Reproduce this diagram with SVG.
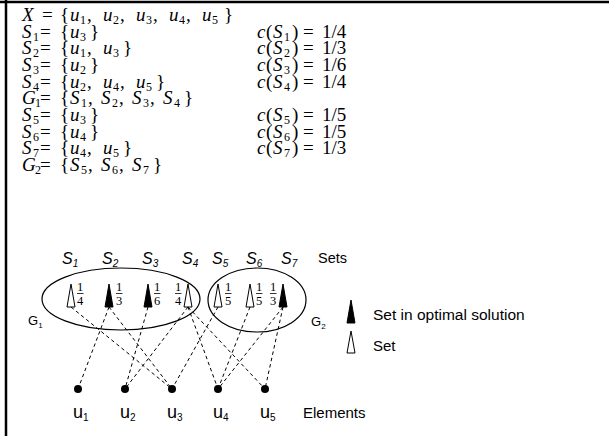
<svg xmlns="http://www.w3.org/2000/svg" width="609" height="436" viewBox="0 0 609 436">
<style>
.m{font-family:"Liberation Serif",serif;font-size:19px;fill:#000}
.i{font-style:italic}
.s{font-size:12px}
.fr{font-family:"Liberation Serif",serif;font-size:12.5px;fill:#000;text-anchor:middle}
.sf{font-family:"Liberation Sans",Arial,sans-serif;fill:#000}
.tri-f{fill:#000;stroke:#000;stroke-width:1}
.tri-o{fill:#fff;stroke:#000;stroke-width:1}
.edge{stroke:#000;stroke-width:1;stroke-dasharray:3.5 3;fill:none}
.grp{fill:none;stroke:#000;stroke-width:1.2}
.bar{stroke:#000;stroke-width:0.8}
</style>
<rect x="0" y="0" width="609" height="436" fill="#fff"/>
<line x1="0" y1="2" x2="609" y2="2" stroke="#000" stroke-width="2.5"/>
<line x1="6" y1="0" x2="6" y2="436" stroke="#000" stroke-width="2.5"/>

<g id="definitions" class="m">
<text y="21"><tspan x="22" class="i">X</tspan><tspan x="42">=</tspan><tspan x="60">{</tspan><tspan x="70" class="i">u</tspan><tspan x="80" y="24" class="s">1</tspan><tspan x="87" y="21">,</tspan><tspan x="103" class="i">u</tspan><tspan x="113" y="24" class="s">2</tspan><tspan x="120" y="21">,</tspan><tspan x="136" class="i">u</tspan><tspan x="146" y="24" class="s">3</tspan><tspan x="153" y="21">,</tspan><tspan x="169" class="i">u</tspan><tspan x="179" y="24" class="s">4</tspan><tspan x="186" y="21">,</tspan><tspan x="202" class="i">u</tspan><tspan x="212" y="24" class="s">5</tspan><tspan x="224" y="21">}</tspan></text>

<text y="38"><tspan x="22" class="i">S</tspan><tspan x="33" y="41" class="s">1</tspan><tspan x="40" y="38">=</tspan><tspan x="60">{</tspan><tspan x="70" class="i">u</tspan><tspan x="80" y="41" class="s">3</tspan><tspan x="90" y="38">}</tspan></text>
<text y="54"><tspan x="22" class="i">S</tspan><tspan x="33" y="57" class="s">2</tspan><tspan x="40" y="54">=</tspan><tspan x="60">{</tspan><tspan x="70" class="i">u</tspan><tspan x="80" y="57" class="s">1</tspan><tspan x="87" y="54">,</tspan><tspan x="103" class="i">u</tspan><tspan x="113" y="57" class="s">3</tspan><tspan x="123" y="54">}</tspan></text>
<text y="71"><tspan x="22" class="i">S</tspan><tspan x="33" y="74" class="s">3</tspan><tspan x="40" y="71">=</tspan><tspan x="60">{</tspan><tspan x="70" class="i">u</tspan><tspan x="80" y="74" class="s">2</tspan><tspan x="90" y="71">}</tspan></text>
<text y="88"><tspan x="22" class="i">S</tspan><tspan x="33" y="91" class="s">4</tspan><tspan x="40" y="88">=</tspan><tspan x="60">{</tspan><tspan x="70" class="i">u</tspan><tspan x="80" y="91" class="s">2</tspan><tspan x="87" y="88">,</tspan><tspan x="103" class="i">u</tspan><tspan x="113" y="91" class="s">4</tspan><tspan x="120" y="88">,</tspan><tspan x="136" class="i">u</tspan><tspan x="146" y="91" class="s">5</tspan><tspan x="156" y="88">}</tspan></text>
<text y="104"><tspan x="22" class="i">G</tspan><tspan x="35" y="107" class="s">1</tspan><tspan x="40" y="104">=</tspan><tspan x="60">{</tspan><tspan x="70" class="i">S</tspan><tspan x="81" y="107" class="s">1</tspan><tspan x="88" y="104">,</tspan><tspan x="101" class="i">S</tspan><tspan x="112" y="107" class="s">2</tspan><tspan x="119" y="104">,</tspan><tspan x="132" class="i">S</tspan><tspan x="143" y="107" class="s">3</tspan><tspan x="150" y="104">,</tspan><tspan x="163" class="i">S</tspan><tspan x="174" y="107" class="s">4</tspan><tspan x="184" y="104">}</tspan></text>
<text y="121"><tspan x="22" class="i">S</tspan><tspan x="33" y="124" class="s">5</tspan><tspan x="40" y="121">=</tspan><tspan x="60">{</tspan><tspan x="70" class="i">u</tspan><tspan x="80" y="124" class="s">3</tspan><tspan x="90" y="121">}</tspan></text>
<text y="138"><tspan x="22" class="i">S</tspan><tspan x="33" y="141" class="s">6</tspan><tspan x="40" y="138">=</tspan><tspan x="60">{</tspan><tspan x="70" class="i">u</tspan><tspan x="80" y="141" class="s">4</tspan><tspan x="90" y="138">}</tspan></text>
<text y="154"><tspan x="22" class="i">S</tspan><tspan x="33" y="157" class="s">7</tspan><tspan x="40" y="154">=</tspan><tspan x="60">{</tspan><tspan x="70" class="i">u</tspan><tspan x="80" y="157" class="s">4</tspan><tspan x="87" y="154">,</tspan><tspan x="103" class="i">u</tspan><tspan x="113" y="157" class="s">5</tspan><tspan x="123" y="154">}</tspan></text>
<text y="171"><tspan x="22" class="i">G</tspan><tspan x="35" y="174" class="s">2</tspan><tspan x="40" y="171">=</tspan><tspan x="60">{</tspan><tspan x="70" class="i">S</tspan><tspan x="81" y="174" class="s">5</tspan><tspan x="88" y="171">,</tspan><tspan x="101" class="i">S</tspan><tspan x="112" y="174" class="s">6</tspan><tspan x="119" y="171">,</tspan><tspan x="132" class="i">S</tspan><tspan x="143" y="174" class="s">7</tspan><tspan x="153" y="171">}</tspan></text>

<text y="38"><tspan x="257" class="i">c</tspan><tspan x="266">(</tspan><tspan x="273" class="i">S</tspan><tspan x="284" y="41" class="s">1</tspan><tspan x="292" y="38">)</tspan><tspan x="303">=</tspan><tspan x="322">1/4</tspan></text>
<text y="54"><tspan x="257" class="i">c</tspan><tspan x="266">(</tspan><tspan x="273" class="i">S</tspan><tspan x="284" y="57" class="s">2</tspan><tspan x="292" y="54">)</tspan><tspan x="303">=</tspan><tspan x="322">1/3</tspan></text>
<text y="71"><tspan x="257" class="i">c</tspan><tspan x="266">(</tspan><tspan x="273" class="i">S</tspan><tspan x="284" y="74" class="s">3</tspan><tspan x="292" y="71">)</tspan><tspan x="303">=</tspan><tspan x="322">1/6</tspan></text>
<text y="88"><tspan x="257" class="i">c</tspan><tspan x="266">(</tspan><tspan x="273" class="i">S</tspan><tspan x="284" y="91" class="s">4</tspan><tspan x="292" y="88">)</tspan><tspan x="303">=</tspan><tspan x="322">1/4</tspan></text>
<text y="121"><tspan x="257" class="i">c</tspan><tspan x="266">(</tspan><tspan x="273" class="i">S</tspan><tspan x="284" y="124" class="s">5</tspan><tspan x="292" y="121">)</tspan><tspan x="303">=</tspan><tspan x="322">1/5</tspan></text>
<text y="138"><tspan x="257" class="i">c</tspan><tspan x="266">(</tspan><tspan x="273" class="i">S</tspan><tspan x="284" y="141" class="s">6</tspan><tspan x="292" y="138">)</tspan><tspan x="303">=</tspan><tspan x="322">1/5</tspan></text>
<text y="154"><tspan x="257" class="i">c</tspan><tspan x="266">(</tspan><tspan x="273" class="i">S</tspan><tspan x="284" y="157" class="s">7</tspan><tspan x="292" y="154">)</tspan><tspan x="303">=</tspan><tspan x="322">1/3</tspan></text>
</g>

<g id="connectors">
<line class="edge" x1="71" y1="307" x2="172" y2="389"/>
<line class="edge" x1="109" y1="307" x2="78" y2="389"/>
<line class="edge" x1="109" y1="307" x2="172" y2="389"/>
<line class="edge" x1="148" y1="307" x2="125" y2="389"/>
<line class="edge" x1="188" y1="307" x2="125" y2="389"/>
<line class="edge" x1="188" y1="307" x2="218" y2="389"/>
<line class="edge" x1="188" y1="307" x2="265" y2="389"/>
<line class="edge" x1="218" y1="307" x2="172" y2="389"/>
<line class="edge" x1="250" y1="307" x2="218" y2="389"/>
<line class="edge" x1="283" y1="307" x2="218" y2="389"/>
<line class="edge" x1="283" y1="307" x2="265" y2="389"/>
</g>

<g id="G1">
<ellipse class="grp" cx="121" cy="299" rx="79" ry="31"/>
<text class="sf" x="28" y="325" font-size="13">G<tspan dy="3" font-size="8">1</tspan></text>
</g>
<g id="G2">
<ellipse class="grp" cx="257" cy="300" rx="49" ry="32"/>
<text class="sf" x="311" y="326" font-size="13">G<tspan dy="3" font-size="8">2</tspan></text>
</g>

<g id="S1">
<text class="sf" x="62" y="264" font-size="16" font-style="italic">S<tspan dy="3" font-size="10">1</tspan></text>
<polygon class="tri-o" points="71,284 67,307 75,307"/>
<text class="fr" x="80" y="291">1</text><line class="bar" x1="77" y1="293.5" x2="83.5" y2="293.5"/><text class="fr" x="80" y="305">4</text>
</g>
<g id="S2">
<text class="sf" x="102" y="264" font-size="16" font-style="italic">S<tspan dy="3" font-size="10">2</tspan></text>
<polygon class="tri-f" points="109,284 105,307 113,307"/>
<text class="fr" x="119" y="291">1</text><line class="bar" x1="116" y1="293.5" x2="122.5" y2="293.5"/><text class="fr" x="119" y="305">3</text>
</g>
<g id="S3">
<text class="sf" x="142" y="264" font-size="16" font-style="italic">S<tspan dy="3" font-size="10">3</tspan></text>
<polygon class="tri-f" points="148,284 144,307 152,307"/>
<text class="fr" x="157" y="291">1</text><line class="bar" x1="154" y1="293.5" x2="160.5" y2="293.5"/><text class="fr" x="157" y="305">6</text>
</g>
<g id="S4">
<text class="sf" x="182" y="264" font-size="16" font-style="italic">S<tspan dy="3" font-size="10">4</tspan></text>
<polygon class="tri-o" points="188,284 184,307 192,307"/>
<text class="fr" x="178" y="291">1</text><line class="bar" x1="175" y1="293.5" x2="181.5" y2="293.5"/><text class="fr" x="178" y="305">4</text>
</g>
<g id="S5">
<text class="sf" x="212" y="264" font-size="16" font-style="italic">S<tspan dy="3" font-size="10">5</tspan></text>
<polygon class="tri-o" points="218,284 214,307 222,307"/>
<text class="fr" x="228" y="291">1</text><line class="bar" x1="225" y1="293.5" x2="231.5" y2="293.5"/><text class="fr" x="228" y="305">5</text>
</g>
<g id="S6">
<text class="sf" x="246" y="264" font-size="16" font-style="italic">S<tspan dy="3" font-size="10">6</tspan></text>
<polygon class="tri-o" points="250,284 246,307 254,307"/>
<text class="fr" x="259" y="291">1</text><line class="bar" x1="256" y1="293.5" x2="262.5" y2="293.5"/><text class="fr" x="259" y="305">5</text>
</g>
<g id="S7">
<text class="sf" x="281" y="264" font-size="16" font-style="italic">S<tspan dy="3" font-size="10">7</tspan></text>
<polygon class="tri-f" points="283,284 279,307 287,307"/>
<text class="fr" x="273" y="291">1</text><line class="bar" x1="270" y1="293.5" x2="276.5" y2="293.5"/><text class="fr" x="273" y="305">3</text>
</g>
<text class="sf" x="318" y="263" font-size="14.5">Sets</text>

<g id="u1"><circle cx="78" cy="389" r="4"/><text class="sf" x="73" y="418" font-size="18">u<tspan dy="3" font-size="10">1</tspan></text></g>
<g id="u2"><circle cx="125" cy="389" r="4"/><text class="sf" x="120" y="418" font-size="18">u<tspan dy="3" font-size="10">2</tspan></text></g>
<g id="u3"><circle cx="172" cy="389" r="4"/><text class="sf" x="167" y="418" font-size="18">u<tspan dy="3" font-size="10">3</tspan></text></g>
<g id="u4"><circle cx="218" cy="389" r="4"/><text class="sf" x="213" y="418" font-size="18">u<tspan dy="3" font-size="10">4</tspan></text></g>
<g id="u5"><circle cx="265" cy="389" r="4"/><text class="sf" x="260" y="418" font-size="18">u<tspan dy="3" font-size="10">5</tspan></text></g>
<text class="sf" x="303" y="418" font-size="15">Elements</text>

<g id="legend">
<polygon class="tri-f" points="351,300 347,323 355,323"/>
<text class="sf" x="373" y="320" font-size="15.5">Set in optimal solution</text>
<polygon class="tri-o" points="351,331 347,353 355,353"/>
<text class="sf" x="373" y="351" font-size="15">Set</text>
</g>
</svg>
